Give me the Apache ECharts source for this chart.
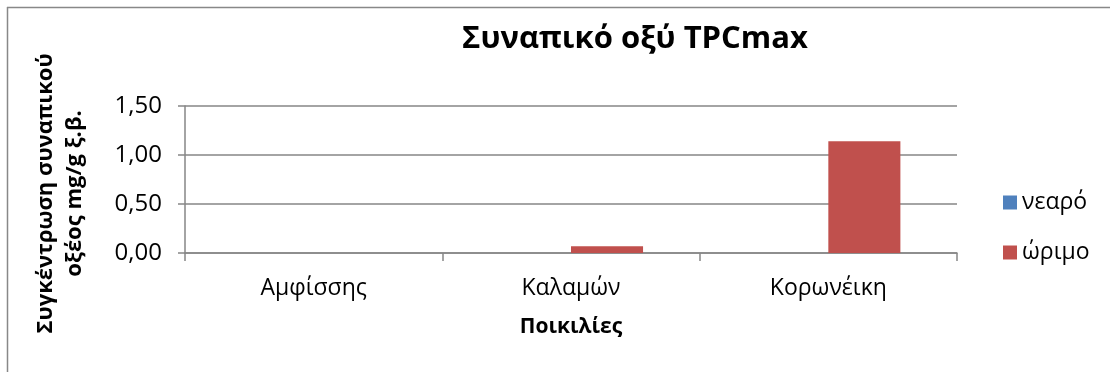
<!DOCTYPE html>
<html>
<head>
<meta charset="utf-8">
<script src="https://cdn.jsdelivr.net/npm/echarts@6/dist/echarts.min.js"></script>
<style>
  html, body { margin: 0; padding: 0; background: #fff; }
  #chart { width: 1110px; height: 372px; }
</style>
</head>
<body>
<div id="chart"></div>
<script>
// Ποικιλίες ελιάς και συγκέντρωση συναπικού οξέος (mg/g ξ.β.)
const categories = ['Αμφίσσης', 'Καλαμών', 'Κορωνέικη'];
const seriesNames = ['νεαρό', 'ώριμο'];
const neoValues = [0, 0, 0];
const orimoValues = [0, 0.07, 1.14];
const yTicks = [0, 0.5, 1.0, 1.5];

const FONT = '"Open Sans", "Noto Sans", sans-serif';
const GRID_COLOR = '#868686';

const chart = echarts.init(document.getElementById('chart'), null, { renderer: 'canvas' });

chart.setOption({
  animation: false,
  backgroundColor: '#fff',
  textStyle: { fontFamily: FONT, color: '#000' },
  title: {
    text: 'Συναπικό οξύ TPCmax',
    left: 630,
    textAlign: 'center',
    top: 19,
    textStyle: { fontFamily: FONT, fontSize: 31, fontWeight: 'bold', color: '#000' }
  },
  graphic: [
    // frame of the chart area (top and left edges)
    { type: 'line', shape: { x1: 7, y1: 7.5, x2: 1110, y2: 7.5 }, style: { stroke: '#888', lineWidth: 1.5 }, silent: true },
    { type: 'line', shape: { x1: 7.5, y1: 7, x2: 7.5, y2: 372 }, style: { stroke: '#888', lineWidth: 1.5 }, silent: true }
  ],
  legend: {
    orient: 'vertical',
    left: 998,
    top: 186,
    itemWidth: 14,
    itemHeight: 14,
    itemGap: 27,
    icon: 'rect',
    data: seriesNames,
    textStyle: { fontFamily: FONT, fontSize: 23, color: '#000' }
  },
  grid: { left: 185, right: 153, top: 106, bottom: 119, containLabel: false },
  xAxis: {
    type: 'category',
    data: categories,
    name: 'Ποικιλίες',
    nameLocation: 'middle',
    nameGap: 64,
    nameTextStyle: { fontFamily: FONT, fontSize: 21, fontWeight: 'bold', color: '#000' },
    axisLine: { lineStyle: { color: GRID_COLOR, width: 1.5 } },
    axisTick: { show: true, length: 8, inside: false, lineStyle: { color: GRID_COLOR, width: 1.5 } },
    axisLabel: { fontFamily: FONT, fontSize: 23, color: '#000', margin: 24 }
  },
  yAxis: {
    type: 'value',
    min: yTicks[0],
    max: yTicks[yTicks.length - 1],
    interval: yTicks[1] - yTicks[0],
    name: 'Συγκέντρωση συναπικού\nοξέος mg/g ξ.β.',
    nameLocation: 'middle',
    nameGap: 96,
    nameRotate: 90,
    nameTextStyle: { fontFamily: FONT, fontSize: 22, fontWeight: 'bold', color: '#000', lineHeight: 29, padding: [0, 28, 0, 0] },
    axisLine: { show: true, lineStyle: { color: GRID_COLOR, width: 1.5 } },
    axisTick: { show: true, length: 7, inside: false, lineStyle: { color: GRID_COLOR, width: 1.5 } },
    splitLine: { show: true, lineStyle: { color: GRID_COLOR, width: 1.5 } },
    axisLabel: {
      fontFamily: FONT, fontSize: 24, color: '#000', margin: 23,
      formatter: v => v.toFixed(2).replace('.', ',')
    }
  },
  series: [
    {
      name: seriesNames[0],
      type: 'bar',
      data: neoValues,
      barGap: '0%',
      barCategoryGap: '44%',
      itemStyle: { color: '#4F81BD' }
    },
    {
      name: seriesNames[1],
      type: 'bar',
      data: orimoValues,
      barGap: '0%',
      barCategoryGap: '44%',
      itemStyle: { color: '#C0504D' }
    }
  ]
});
</script>
</body>
</html>
